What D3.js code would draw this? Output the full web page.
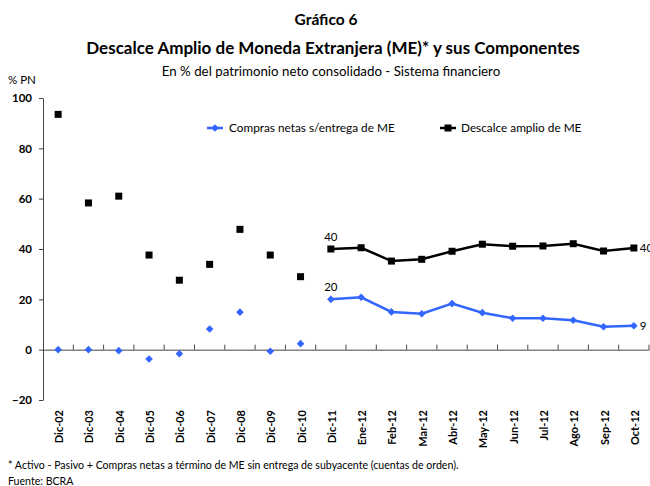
<!DOCTYPE html>
<html><head><meta charset="utf-8">
<script src="https://cdn.jsdelivr.net/npm/d3@7"></script>
<style>
body{margin:0;background:#fff;}
text{font-family:Lato, "Open Sans", sans-serif;}
</style></head>
<body>
<svg id="c" width="650" height="486"></svg>
<script>
const categories = ["Dic-02","Dic-03","Dic-04","Dic-05","Dic-06","Dic-07","Dic-08","Dic-09","Dic-10","Dic-11","Ene-12","Feb-12","Mar-12","Abr-12","May-12","Jun-12","Jul-12","Ago-12","Sep-12","Oct-12"];
const descalce = [93.5,58.3,61.0,37.6,27.6,33.9,47.8,37.6,29.0,40.0,40.5,35.2,35.9,39.1,41.9,41.1,41.2,42.1,39.2,40.4];
const compras = [0,0,-0.4,-3.7,-1.6,8.2,14.9,-0.6,2.4,20.0,20.8,15.0,14.3,18.3,14.7,12.5,12.5,11.7,9.1,9.5];
const yTicks = [100,80,60,40,20,0,-20];
const lineStart = 9; // monthly series connected from Dic-11

const svg = d3.select("#c");
const x = d3.scaleBand().domain(categories).range([43, 649]);
const y = d3.scaleLinear().domain([-20, 100]).range([400, 98]);
const cx = d => x(d) + x.bandwidth()/2;
const blue = "#3366ff";

// titles
svg.append("text").attr("x",326).attr("y",25).attr("text-anchor","middle").attr("font-weight","bold").attr("font-size",15.5).text("Gráfico 6");
svg.append("text").attr("x",333).attr("y",54).attr("text-anchor","middle").attr("font-weight","bold").attr("font-size",17).text("Descalce Amplio de Moneda Extranjera (ME)* y sus Componentes");
svg.append("text").attr("x",331).attr("y",76).attr("text-anchor","middle").attr("font-size",13.3).text("En % del patrimonio neto consolidado - Sistema financiero");
svg.append("text").attr("x",8).attr("y",84).attr("font-size",11.5).text("% PN");

// y axis
const ya = svg.append("g").attr("transform","translate(43,0)")
  .call(d3.axisLeft(y).tickValues(yTicks).tickSize(4).tickSizeOuter(0).tickPadding(7));
ya.select(".domain").attr("stroke","#444");
ya.selectAll(".tick line").attr("stroke","#444");
ya.selectAll("text").attr("font-weight","bold").attr("font-size",11.5).attr("fill","#000").attr("font-family","Lato, sans-serif");

// x axis at 0
const xa = svg.append("g").attr("transform",`translate(0,${y(0)})`)
  .call(d3.axisBottom(x).tickSize(0).tickFormat(""));
xa.select(".domain").attr("stroke","#444");
xa.selectAll(".tick").remove();
const bounds = categories.slice(1).map(c => x(c)).concat([x(categories[categories.length-1]) + x.bandwidth()]);
svg.append("g").selectAll("line").data(bounds).join("line")
  .attr("x1",d=>d).attr("x2",d=>d).attr("y1",y(0)).attr("y2",y(0)-5).attr("stroke","#444");

// x labels
svg.append("g").selectAll("text").data(categories).join("text")
  .attr("transform", d => `translate(${cx(d)+5},410) rotate(-90)`)
  .attr("text-anchor","end").attr("font-weight","bold").attr("font-size",11).text(d=>d);

// lines
const lineGen = (vals) => d3.line().x((d,i)=>cx(categories[i])).y(d=>y(d))
  .defined((d,i)=> i >= lineStart)(vals);
svg.append("path").attr("d", lineGen(compras)).attr("fill","none").attr("stroke",blue).attr("stroke-width",2.5);
svg.append("path").attr("d", lineGen(descalce)).attr("fill","none").attr("stroke","#000").attr("stroke-width",2.5);

// markers
const diamond = "M0,-3.8L3.8,0L0,3.8L-3.8,0Z";
svg.append("g").selectAll("path").data(compras).join("path")
  .attr("d", diamond).attr("transform",(d,i)=>`translate(${cx(categories[i])},${y(d)})`).attr("fill",blue);
svg.append("g").selectAll("rect").data(descalce).join("rect")
  .attr("x",(d,i)=>cx(categories[i])-3.5).attr("y",d=>y(d)-3.5).attr("width",7).attr("height",7).attr("fill","#000");

// data labels
const last = categories.length-1;
svg.append("text").attr("x",cx(categories[lineStart])).attr("y",y(descalce[lineStart])-8).attr("text-anchor","middle").attr("font-size",11.5).text(Math.round(descalce[lineStart]));
svg.append("text").attr("x",cx(categories[lineStart])).attr("y",y(compras[lineStart])-8).attr("text-anchor","middle").attr("font-size",11.5).text(Math.round(compras[lineStart]));
svg.append("text").attr("x",cx(categories[last])+6).attr("y",y(descalce[last])+4).attr("font-size",11.5).text(Math.round(descalce[last]));
svg.append("text").attr("x",cx(categories[last])+6).attr("y",y(compras[last])+4).attr("font-size",11.5).text(Math.floor(compras[last]));

// legend
const lg = svg.append("g");
lg.append("line").attr("x1",207).attr("x2",223).attr("y1",128).attr("y2",128).attr("stroke",blue).attr("stroke-width",2.5);
lg.append("path").attr("d",diamond).attr("transform","translate(215,128)").attr("fill",blue);
lg.append("text").attr("x",229).attr("y",132).attr("font-size",11.8).text("Compras netas s/entrega de ME");
lg.append("line").attr("x1",440).attr("x2",456).attr("y1",128).attr("y2",128).attr("stroke","#000").attr("stroke-width",2.5);
lg.append("rect").attr("x",444.5).attr("y",124.5).attr("width",7).attr("height",7).attr("fill","#000");
lg.append("text").attr("x",461).attr("y",132).attr("font-size",11.8).text("Descalce amplio de ME");

// footnotes
svg.append("text").attr("x",8).attr("y",469).attr("font-size",10.6).text("* Activo - Pasivo + Compras netas a término de ME sin entrega de subyacente (cuentas de orden).");
svg.append("text").attr("x",8).attr("y",485).attr("font-size",10.6).text("Fuente: BCRA");
</script>
</body></html>
